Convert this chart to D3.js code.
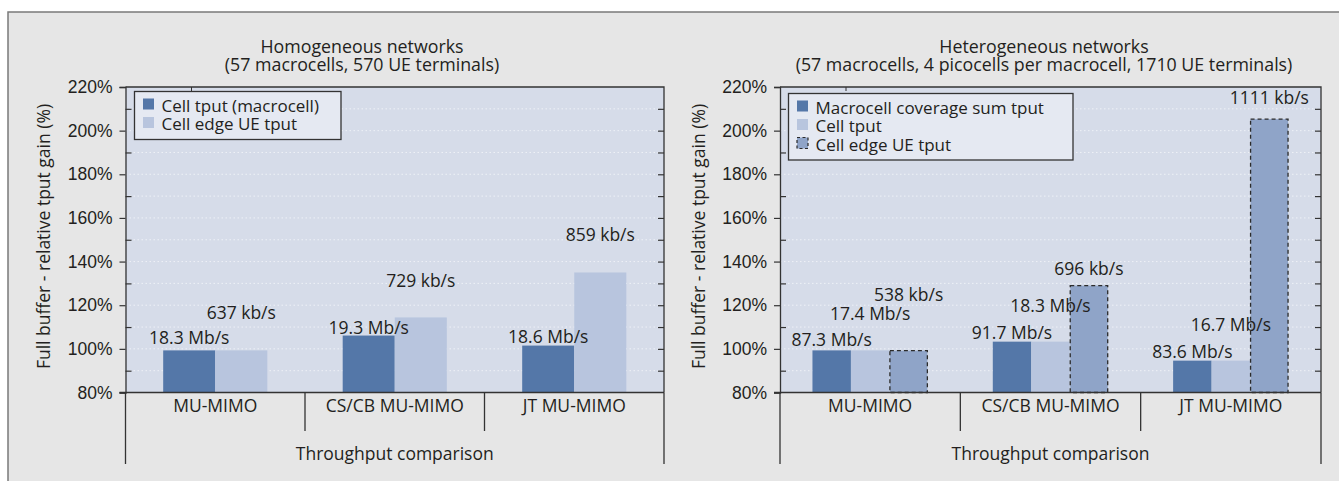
<!DOCTYPE html>
<html>
<head>
<meta charset="utf-8">
<script src="https://cdn.jsdelivr.net/npm/d3@7"></script>
<style>
  html, body { margin: 0; padding: 0; background: #fff; }
  svg { display: block; font-family: "Open Sans", Roboto, sans-serif; }
  .tick text { font-size: 17.5px; fill: #231f20; }
</style>
</head>
<body>
<svg id="chart" width="1339" height="481"></svg>
<script>
// categories and series
const categories = ['MU-MIMO', 'CS/CB MU-MIMO', 'JT MU-MIMO'];
const yTicks = [80, 100, 120, 140, 160, 180, 200, 220];
const yMinorTicks = [90, 110, 130, 150, 170, 190, 210];

// homogeneous networks
const homoSeries = ['Cell tput (macrocell)', 'Cell edge UE tput'];
const homoCellTput = [99.3, 106.1, 101.5];
const homoEdgeTput = [99.3, 114.4, 135.0];
const homoCellLabels = ['18.3 Mb/s', '19.3 Mb/s', '18.6 Mb/s'];
const homoEdgeLabels = ['637 kb/s', '729 kb/s', '859 kb/s'];

// heterogeneous networks
const heteroSeries = ['Macrocell coverage sum tput', 'Cell tput', 'Cell edge UE tput'];
const heteroSumTput = [99.3, 103.3, 94.6];
const heteroCellTput = [99.3, 103.3, 94.6];
const heteroEdgeTput = [99.4, 129.2, 205.5];
const heteroSumLabels = ['87.3 Mb/s', '91.7 Mb/s', '83.6 Mb/s'];
const heteroCellLabels = ['17.4 Mb/s', '18.3 Mb/s', '16.7 Mb/s'];
const heteroEdgeLabels = ['538 kb/s', '696 kb/s', '1111 kb/s'];

const svg = d3.select('#chart');
const TEXT = '#231f20';
const AXIS = '#333';
const FS = 17.5;

function txt(parent, x, y, str, anchor = 'middle', size = FS) {
  return parent.append('text')
    .attr('x', x).attr('y', y)
    .attr('text-anchor', anchor).attr('font-size', size).attr('fill', TEXT)
    .text(str);
}

// outer frame
svg.append('rect').attr('width', 1339).attr('height', 481).attr('fill', '#fff');
svg.append('rect')
  .attr('x', 8).attr('y', 12).attr('width', 1340).attr('height', 480)
  .attr('fill', '#e6e6e6').attr('stroke', '#7a7a7a').attr('stroke-width', 1.5);

function drawPanel(opt) {
  const { left, right, titleX, title, series, values, labels, lifts, styles, groupFrac, legend } = opt;
  const top = 87, bottom = 392.5;
  const g = svg.append('g');

  const y = d3.scaleLinear().domain([80, 220]).range([bottom, top]);
  const x0 = d3.scaleBand().domain(categories).range([left, right]);
  const pad = x0.bandwidth() * (1 - groupFrac) / 2;
  const x1 = d3.scaleBand().domain(series).range([pad, x0.bandwidth() - pad]);

  // plot background
  g.append('rect')
    .attr('x', left).attr('y', top).attr('width', right - left).attr('height', bottom - top)
    .attr('fill', '#d6dce9');

  // faint dotted grid
  g.selectAll('.grid').data(d3.range(90, 220, 10)).join('line')
    .attr('x1', left).attr('x2', right)
    .attr('y1', d => y(d)).attr('y2', d => y(d))
    .attr('stroke', '#eef1f7').attr('stroke-width', 1).attr('stroke-dasharray', '1.5,2.5');

  // bars
  series.forEach((s, si) => {
    const st = styles[si];
    g.selectAll(null).data(values[si]).join('rect')
      .attr('x', (d, i) => x0(categories[i]) + x1(s) + (st.dash ? 0.5 : 0))
      .attr('y', d => y(d) + (st.dash ? 0.5 : 0))
      .attr('width', x1.bandwidth() - (st.dash ? 1 : 0))
      .attr('height', d => y(80) - y(d) - (st.dash ? 0.5 : 0))
      .attr('fill', st.fill)
      .attr('stroke', st.dash ? '#2b2b2b' : 'none')
      .attr('stroke-width', 1.3)
      .attr('stroke-dasharray', st.dash ? '4,3' : null);
  });

  // value labels
  series.forEach((s, si) => {
    g.selectAll(null).data(values[si]).join('text')
      .attr('x', (d, i) => x0(categories[i]) + x1(s) + x1.bandwidth() / 2)
      .attr('y', (d, i) => y(d) - lifts[si][i])
      .attr('text-anchor', 'middle')
      .attr('font-size', FS)
      .attr('fill', TEXT)
      .text((d, i) => labels[si][i]);
  });

  // plot border (top/right)
  g.append('path')
    .attr('d', `M${left},${top}H${right}V${bottom}`)
    .attr('fill', 'none').attr('stroke', AXIS).attr('stroke-width', 1.3);
  // small top tick
  g.append('line')
    .attr('x1', left + 66).attr('x2', left + 66).attr('y1', top).attr('y2', top + 4)
    .attr('stroke', AXIS);

  // y axis
  const yAxis = g.append('g').attr('transform', `translate(${left},0)`)
    .call(d3.axisLeft(y).tickValues(yTicks).tickSize(6).tickPadding(7).tickFormat(d => d + '%'));
  yAxis.select('.domain').attr('stroke', AXIS).attr('stroke-width', 1.3);
  yAxis.selectAll('.tick line').attr('stroke', AXIS).attr('stroke-width', 1.2);
  const yMinor = g.append('g').attr('transform', `translate(${left},0)`)
    .call(d3.axisRight(y).tickValues(yMinorTicks).tickSize(6).tickFormat(''));
  yMinor.select('.domain').remove();
  yMinor.selectAll('.tick line').attr('stroke', AXIS).attr('stroke-width', 1.2);
  const yRight = g.append('g').attr('transform', `translate(${right},0)`)
    .call(d3.axisLeft(y).tickValues(yMinorTicks.concat(yTicks.slice(1, -1))).tickSize(6).tickFormat(''));
  yRight.select('.domain').remove();
  yRight.selectAll('.tick line').attr('stroke', AXIS).attr('stroke-width', 1.2);

  // x axis with category separators
  g.append('line')
    .attr('x1', left - 6).attr('x2', right).attr('y1', bottom).attr('y2', bottom)
    .attr('stroke', AXIS).attr('stroke-width', 1.3);
  const edges = categories.map(c => x0(c)).concat([right]);
  g.selectAll(null).data(edges).join('line')
    .attr('x1', d => d).attr('x2', d => d)
    .attr('y1', bottom)
    .attr('y2', (d, i) => (i === 0 || i === edges.length - 1) ? 464 : 431)
    .attr('stroke', AXIS).attr('stroke-width', 1.3);
  categories.forEach(c => txt(g, x0(c) + x0.bandwidth() / 2, 411.5, c));
  txt(g, (left + right) / 2, 460, 'Throughput comparison');

  // y title
  g.append('text')
    .attr('transform', `translate(${left - 75.5},${236.5}) rotate(-90)`)
    .attr('text-anchor', 'middle').attr('font-size', FS).attr('fill', TEXT)
    .text('Full buffer - relative tput gain (%)');

  // title
  txt(g, titleX, 52.7, title[0], 'middle', 17.8);
  txt(g, titleX, 70.8, title[1], 'middle', 17.8);

  // legend
  const lg = g.append('g').attr('transform', `translate(${legend.x},${legend.y})`);
  lg.append('rect')
    .attr('width', legend.w).attr('height', 18.5 * series.length + 11)
    .attr('fill', '#e5e9f2').attr('stroke', AXIS).attr('stroke-width', 1.3);
  series.forEach((s, si) => {
    const st = styles[si];
    const row = lg.append('g').attr('transform', `translate(8,${6.5 + si * 18.5})`);
    row.append('rect')
      .attr('x', 0.5).attr('y', 0.5).attr('width', 11).attr('height', 11)
      .attr('fill', st.fill)
      .attr('stroke', st.dash ? '#2b2b2b' : 'none')
      .attr('stroke-width', 1.2)
      .attr('stroke-dasharray', st.dash ? '3,2.5' : null);
    txt(row, 19, 13.5, s, 'start', 17);
  });
}

const DARK = { fill: '#5477a8' };
const LIGHT = { fill: '#b8c5de' };
const DASHED = { fill: '#8fa4c8', dash: true };

drawPanel({
  left: 125.5, right: 664, titleX: 362,
  title: ['Homogeneous networks', '(57 macrocells, 570 UE terminals)'],
  series: homoSeries,
  values: [homoCellTput, homoEdgeTput],
  labels: [homoCellLabels, homoEdgeLabels],
  lifts: [[6, 2, 3], [31, 30, 31]],
  styles: [DARK, LIGHT],
  groupFrac: 0.58,
  legend: { x: 134.5, y: 91.5, w: 206.5 }
});

drawPanel({
  left: 780, right: 1321, titleX: 1044,
  title: ['Heterogeneous networks', '(57 macrocells, 4 picocells per macrocell, 1710 UE terminals)'],
  series: heteroSeries,
  values: [heteroSumTput, heteroCellTput, heteroEdgeTput],
  labels: [heteroSumLabels, heteroCellLabels, heteroEdgeLabels],
  lifts: [[4, 3, 3], [30, 30, 30], [49, 10, 15]],
  styles: [DARK, LIGHT, DASHED],
  groupFrac: 0.64,
  legend: { x: 788.5, y: 93.5, w: 284.5 }
});
</script>
</body>
</html>
